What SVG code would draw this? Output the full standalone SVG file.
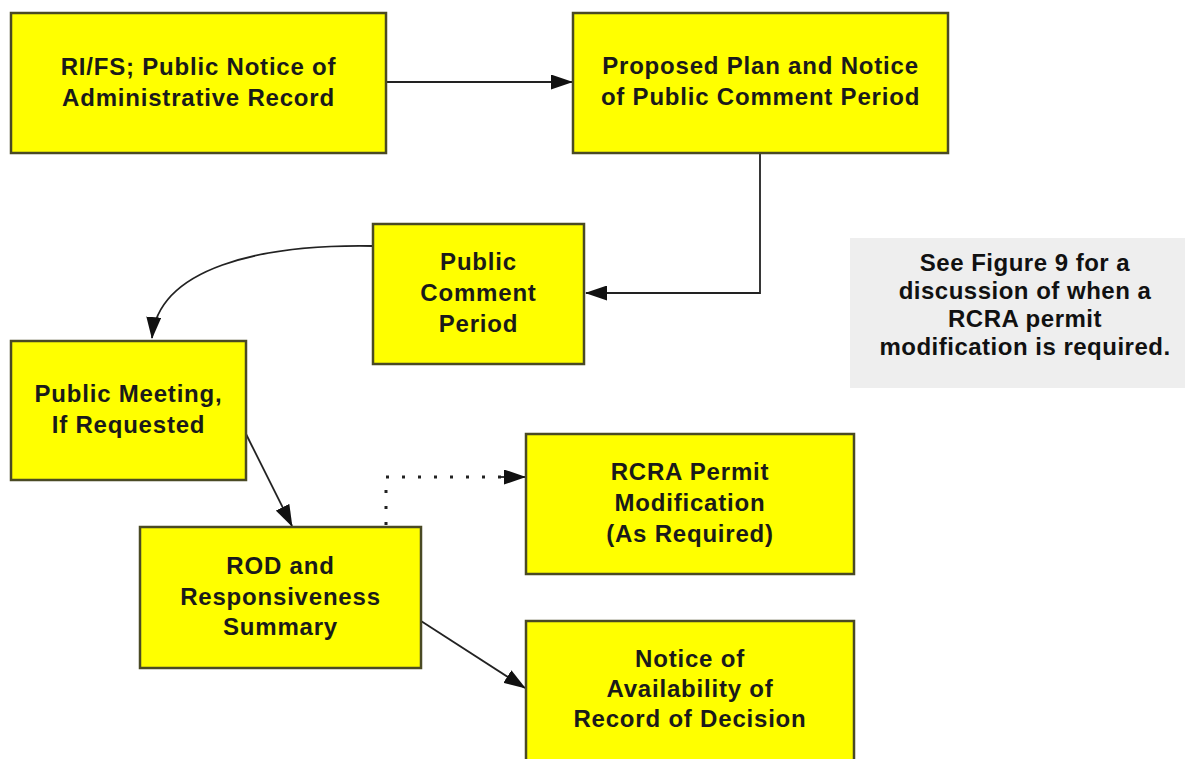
<svg xmlns="http://www.w3.org/2000/svg" width="1185" height="759" viewBox="0 0 1185 759">
<defs>
<style>
.box{fill:#ffff00;stroke:#4a4a24;stroke-width:2.5}
.t{font-family:"Liberation Sans",Arial,sans-serif;font-weight:bold;font-size:24px;letter-spacing:0.8px;fill:#1a1a1a;text-anchor:middle}
.n{font-family:"Liberation Sans",Arial,sans-serif;font-weight:bold;font-size:24px;letter-spacing:0.5px;fill:#111;text-anchor:middle}
.c{fill:none;stroke:#222;stroke-width:1.8}
.dot{fill:none;stroke:#222;stroke-width:3;stroke-dasharray:3 13}
</style>
<marker id="ah" markerWidth="22" markerHeight="15" refX="21" refY="7.5" orient="auto" markerUnits="userSpaceOnUse">
<path d="M0,0 L22,7.5 L0,15 z" fill="#111"/>
</marker>
</defs>
<rect width="1185" height="759" fill="#ffffff"/>
<g id="connectors">
<path class="c" d="M386,82 L572,82" marker-end="url(#ah)"/>
<path class="c" d="M760,153 L760,293 L586,293" marker-end="url(#ah)"/>
<path class="c" d="M373,246 C260,244 158,268 152,338" marker-end="url(#ah)"/>
<path class="c" d="M246,434 L292,526" marker-end="url(#ah)"/>
<path class="dot" d="M386,525 L386,477 L502,477"/>
<path class="c" d="M498,477 L525,477" marker-end="url(#ah)"/>
<path class="c" d="M421,621 L525,688" marker-end="url(#ah)"/>
</g>
<g id="n1">
<rect class="box" x="11" y="13" width="375" height="140"/>
<text class="t" x="198.5" y="75">RI/FS; Public Notice of</text>
<text class="t" x="198.5" y="106">Administrative Record</text>
</g>
<g id="n2">
<rect class="box" x="573" y="13" width="375" height="140"/>
<text class="t" x="760.5" y="74">Proposed Plan and Notice</text>
<text class="t" x="760.5" y="105">of Public Comment Period</text>
</g>
<g id="n3">
<rect class="box" x="373" y="224" width="211" height="140"/>
<text class="t" x="478.5" y="270">Public</text>
<text class="t" x="478.5" y="301">Comment</text>
<text class="t" x="478.5" y="332">Period</text>
</g>
<g id="n4">
<rect class="box" x="11" y="341" width="235" height="139"/>
<text class="t" x="128.5" y="402">Public Meeting,</text>
<text class="t" x="128.5" y="433">If Requested</text>
</g>
<g id="n5">
<rect class="box" x="140" y="527" width="281" height="141"/>
<text class="t" x="280.5" y="574">ROD and</text>
<text class="t" x="280.5" y="605">Responsiveness</text>
<text class="t" x="280.5" y="635">Summary</text>
</g>
<g id="n6">
<rect class="box" x="526" y="434" width="328" height="140"/>
<text class="t" x="690" y="480">RCRA Permit</text>
<text class="t" x="690" y="511">Modification</text>
<text class="t" x="690" y="542">(As Required)</text>
</g>
<g id="n7">
<rect class="box" x="526" y="621" width="328" height="150"/>
<text class="t" x="690" y="667">Notice of</text>
<text class="t" x="690" y="697">Availability of</text>
<text class="t" x="690" y="727">Record of Decision</text>
</g>
<g id="note">
<rect x="850" y="238" width="335" height="150" fill="#eeeeee"/>
<text class="n" x="1025" y="271">See Figure 9 for a</text>
<text class="n" x="1025" y="299">discussion of when a</text>
<text class="n" x="1025" y="327">RCRA permit</text>
<text class="n" x="1025" y="355">modification is required.</text>
</g>
</svg>
